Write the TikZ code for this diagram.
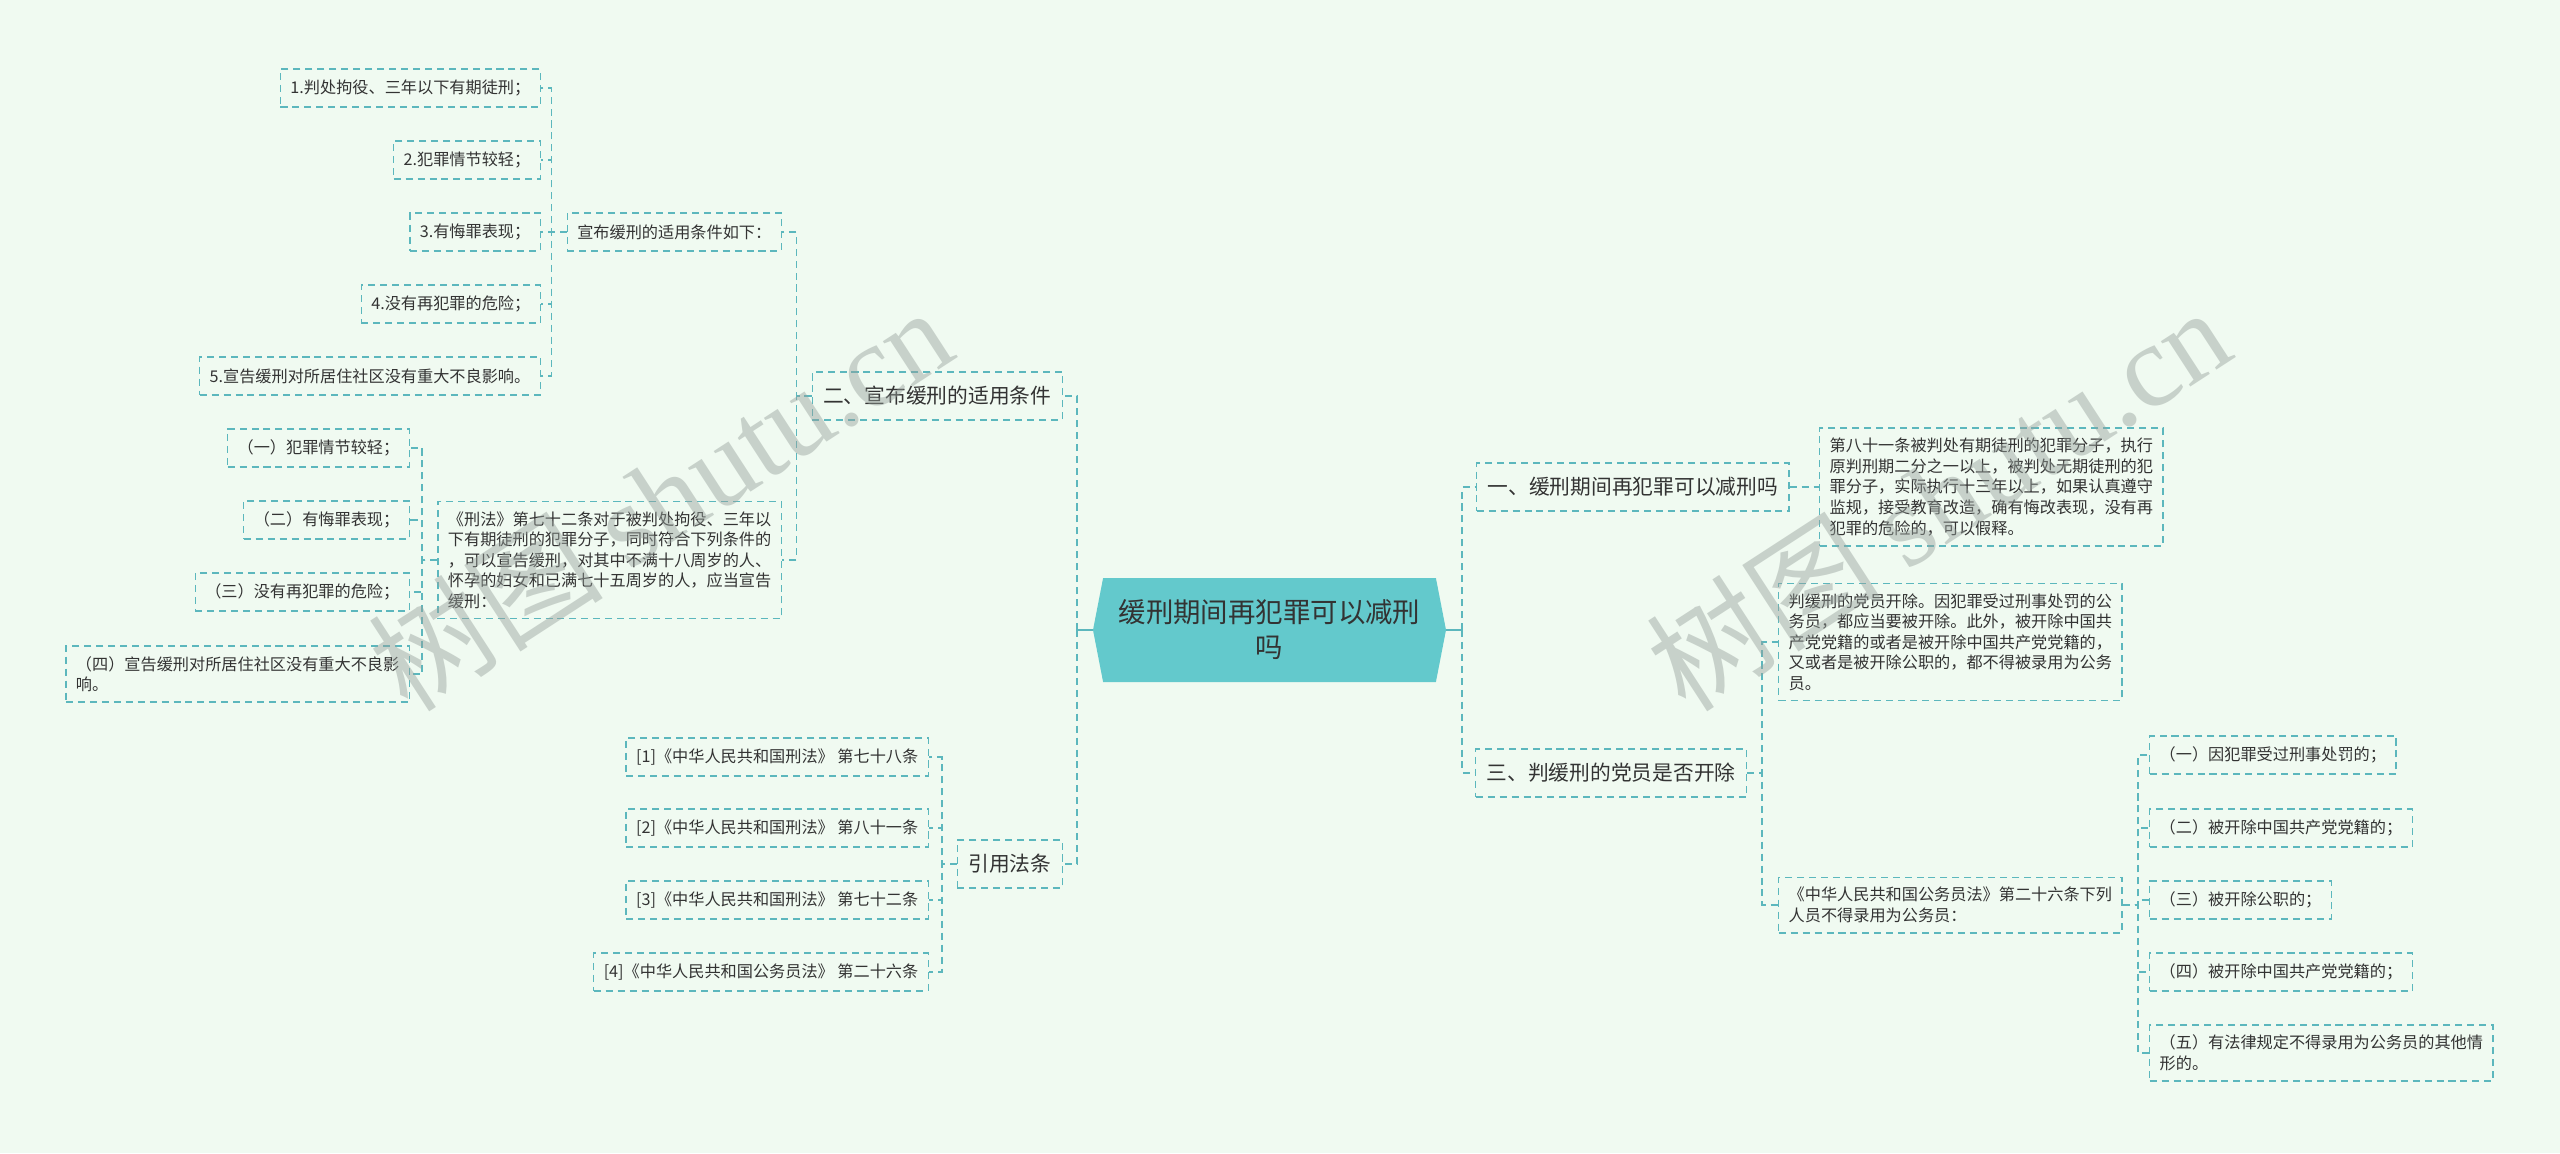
\documentclass[tikz,border=0pt]{standalone}
\usepackage{fontspec}
\setmainfont{Noto Sans CJK SC}
\newfontfamily\wmlatin{Liberation Serif}
\usetikzlibrary{shapes.symbols}
\definecolor{bgmint}{RGB}{240,250,241}
\definecolor{tealline}{RGB}{92,183,189}
\definecolor{rootfill}{RGB}{99,201,204}
\definecolor{inkgray}{RGB}{51,51,51}
\definecolor{wmgray}{RGB}{150,160,155}

\begin{document}
\begin{tikzpicture}[
  leaf/.style={draw=tealline,dash pattern=on 4pt off 2.8pt,line width=0.8pt,fill=bgmint,text=inkgray,font=\fontsize{9.2}{11.7}\selectfont,inner xsep=0.2cm,inner ysep=0.2cm,minimum height=0.76cm,align=left},
  branch/.style={leaf,font=\fontsize{11.8}{15}\selectfont,inner xsep=0.22cm,minimum height=0.96cm},
  rootnode/.style={signal,signal to=east and west,signal pointer angle=158,fill=rootfill,text=inkgray,font=\fontsize{15.6}{19.9}\selectfont,align=center,minimum width=7.06cm,minimum height=2.08cm,inner sep=0pt},
  link/.style={draw=tealline,dash pattern=on 4pt off 2.8pt,line width=1pt},
  stub/.style={draw=tealline,line width=1.6pt},
  wmark/.style={text=wmgray,text opacity=0.45,font=\fontsize{67}{67}\selectfont}]
\fill[bgmint] (0,0) rectangle (51.2,-23.06);
% centre
\node[rootnode] (root) at (25.39,-12.60) {缓刑期间再犯罪可以减刑\\吗};
% branches
\node[branch,anchor=east] (b2) at (21.26,-7.92) {二、宣布缓刑的适用条件};
\node[branch,anchor=east] (bq) at (21.26,-17.28) {引用法条};
\node[branch,anchor=west] (b1) at (29.52,-9.74) {一、缓刑期间再犯罪可以减刑吗};
\node[branch,anchor=west] (b3) at (29.50,-15.46) {三、判缓刑的党员是否开除};
% left side, conditions
\node[leaf,anchor=east] (m1) at (15.64,-4.64) {宣布缓刑的适用条件如下：};
\node[leaf,anchor=east] (m2) at (15.64,-11.20) {《刑法》第七十二条对于被判处拘役、三年以\\下有期徒刑的犯罪分子，同时符合下列条件的\\，可以宣告缓刑，对其中不满十八周岁的人、\\怀孕的妇女和已满七十五周岁的人，应当宣告\\缓刑：};
\node[leaf,anchor=east] (a1) at (10.82,-1.76) {1.判处拘役、三年以下有期徒刑；};
\node[leaf,anchor=east] (a2) at (10.82,-3.20) {2.犯罪情节较轻；};
\node[leaf,anchor=east] (a3) at (10.82,-4.64) {3.有悔罪表现；};
\node[leaf,anchor=east] (a4) at (10.82,-6.08) {4.没有再犯罪的危险；};
\node[leaf,anchor=east] (a5) at (10.82,-7.52) {5.宣告缓刑对所居住社区没有重大不良影响。};
\node[leaf,anchor=east] (k1) at (8.20,-8.96) {（一）犯罪情节较轻；};
\node[leaf,anchor=east] (k2) at (8.20,-10.40) {（二）有悔罪表现；};
\node[leaf,anchor=east] (k3) at (8.20,-11.84) {（三）没有再犯罪的危险；};
\node[leaf,anchor=east] (k4) at (8.20,-13.48) {（四）宣告缓刑对所居住社区没有重大不良影\\响。};
% left side, cited articles
\node[leaf,anchor=east] (q1) at (18.58,-15.14) {[1]《中华人民共和国刑法》 第七十八条};
\node[leaf,anchor=east] (q2) at (18.58,-16.56) {[2]《中华人民共和国刑法》 第八十一条};
\node[leaf,anchor=east] (q3) at (18.58,-18.00) {[3]《中华人民共和国刑法》 第七十二条};
\node[leaf,anchor=east] (q4) at (18.58,-19.44) {[4]《中华人民共和国公务员法》 第二十六条};
% right side
\node[leaf,anchor=west] (r1) at (36.38,-9.74) {第八十一条被判处有期徒刑的犯罪分子，执行\\原判刑期二分之一以上，被判处无期徒刑的犯\\罪分子，实际执行十三年以上，如果认真遵守\\监规，接受教育改造，确有悔改表现，没有再\\犯罪的危险的，可以假释。};
\node[leaf,anchor=west] (r2) at (35.56,-12.84) {判缓刑的党员开除。因犯罪受过刑事处罚的公\\务员，都应当要被开除。此外，被开除中国共\\产党党籍的或者是被开除中国共产党党籍的，\\又或者是被开除公职的，都不得被录用为公务\\员。};
\node[leaf,anchor=west] (r3) at (35.56,-18.10) {《中华人民共和国公务员法》第二十六条下列\\人员不得录用为公务员：};
\node[leaf,anchor=west] (p1) at (42.98,-15.10) {（一）因犯罪受过刑事处罚的；};
\node[leaf,anchor=west] (p2) at (42.98,-16.56) {（二）被开除中国共产党党籍的；};
\node[leaf,anchor=west] (p3) at (42.98,-18.00) {（三）被开除公职的；};
\node[leaf,anchor=west] (p4) at (42.98,-19.44) {（四）被开除中国共产党党籍的；};
\node[leaf,anchor=west] (p5) at (42.98,-21.06) {（五）有法律规定不得录用为公务员的其他情\\形的。};
% connectors
\draw[stub] (root.west) -- ++(-0.32,0);
\draw[stub] (root.east) -- ++(0.32,0);
\foreach \c in {b2,bq} \draw[link] (root.west) ++(-0.32,0) |- (\c.east);
\foreach \c in {b1,b3} \draw[link] (root.east) ++(0.32,0) |- (\c.west);
\foreach \c in {m1,m2} \draw[link] (b2.west) -- ++(-0.3,0) |- (\c.east);
\foreach \c in {a1,a2,a3,a4,a5} \draw[link] (m1.west) -- ++(-0.3,0) |- (\c.east);
\foreach \c in {k1,k2,k3,k4} \draw[link] (m2.west) -- ++(-0.3,0) |- (\c.east);
\foreach \c in {q1,q2,q3,q4} \draw[link] (bq.west) -- ++(-0.3,0) |- (\c.east);
\draw[link] (b1.east) -- (r1.west);
\foreach \c in {r2,r3} \draw[link] (b3.east) -- ++(0.3,0) |- (\c.west);
\foreach \c in {p1,p2,p3,p4,p5} \draw[link] (r3.east) -- ++(0.3,0) |- (\c.west);
% watermarks
\node[wmark,rotate=33] (wm1) at (13.20,-9.95) {树图 {\wmlatin shutu.cn}};
\node[wmark,rotate=33] (wm2) at (38.76,-9.95) {树图 {\wmlatin shutu.cn}};
\end{tikzpicture}
\end{document}
